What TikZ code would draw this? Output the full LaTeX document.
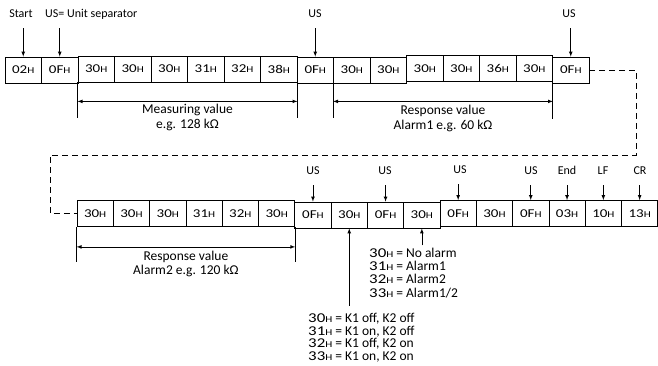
\documentclass[tikz,border=0pt]{standalone}
\usepackage{fontspec}
\setmainfont{Carlito}
\newfontfamily\hexfont[FakeStretch=1.25]{Carlito}
\usetikzlibrary{arrows, positioning}
\newcommand{\hx}[1]{{\hexfont #1{\fontsize{9}{9}\selectfont H}}}
\newcommand{\txtsize}{\fontsize{12}{13.4}\selectfont}
\newcommand{\notesize}{\fontsize{13.5}{14}\selectfont}
\tikzstyle{byte} = [rectangle, draw, line width=0.8pt, minimum width=36.5pt, minimum height=26pt, inner sep=0pt, font=\txtsize]
\tikzstyle{tag} = [inner sep=1pt, text height=9pt, text depth=3pt, font=\txtsize]
\tikzstyle{note} = [inner sep=1pt, text height=9.3pt, text depth=2.7pt, font=\notesize]
\tikzstyle{legendline} = [note, anchor=west]
\tikzstyle{pointer} = [line width=0.7pt, ->, >=latex, shorten <=6pt]
\tikzstyle{span} = [line width=0.7pt, <->, >=latex]
\tikzstyle{bound} = [line width=0.9pt]
\tikzstyle{wrap} = [line width=0.7pt, dash pattern=on 6pt off 4pt]

\begin{document}
\begin{tikzpicture}[x=1pt, y=-1pt]
\useasboundingbox (0,0) rectangle (658,366);
% first line of the frame
\foreach \v/\dy [count=\i] in {02/0,0F/0,30/-1,30/-1,30/-1,31/-1,32/-1,38/-1,0F/0,30/0,30/0,30/-1.5,30/-1.5,36/-1.5,30/-1.5,0F/0}
  \node (t\i) [byte] at ({5+36.5*(\i-0.5)},{70+\dy}) {\hx{\v}};
% second line of the frame
\foreach \v/\dy [count=\i] in {30/0,30/0,30/0,31/0,32/0,30/0,0F/1.5,30/1.5,0F/1.5,30/1.5,0F/0,30/0,0F/0,03/0,10/0,13/0}
  \node (b\i) [byte, minimum width=36.3pt] at ({77+36.3*(\i-0.5)},{213.5+\dy}) {\hx{\v}};
% labels above
\node (start) [tag] at (21,15) {Start};
\node (usdef) [tag, anchor=west] at (44,15) {US= Unit separator};
\node (usA) [tag] at (315,15) {US};
\node (usB) [tag] at (569,15) {US};
\node (usC) [tag] at (313,172) {US};
\node (usD) [tag] at (385,172) {US};
\node (usE) [tag] at (460,171) {US};
\node (usF) [tag] at (531,172) {US};
\node (end) [tag] at (567,172) {End};
\node (lf) [tag] at (603,172) {LF};
\node (cr) [tag] at (640,172) {CR};
\draw [pointer] (t1.north |- start.south) -- (t1.north);
\draw [pointer] (t2.north |- usdef.south) -- (t2.north);
\draw [pointer] (t9.north |- usA.south) -- (t9.north);
\draw [pointer] (t16.north |- usB.south) -- (t16.north);
\draw [pointer] (b7.north |- usC.south) -- (b7.north);
\draw [pointer] (b9.north |- usD.south) -- (b9.north);
\draw [pointer] (b11.north |- usE.south) -- (b11.north);
\draw [pointer] (b13.north |- usF.south) -- (b13.north);
\draw [pointer] (b14.north |- end.south) -- (b14.north);
\draw [pointer] (b15.north |- lf.south) -- (b15.north);
\draw [pointer] (b16.north |- cr.south) -- (b16.north);
% value ranges
\draw [bound] (t3.south west) -- ++(0,36);
\draw [bound] (t8.south east) -- ++(0,36);
\draw [span] ([yshift=-19pt]t3.south west) -- coordinate[midway] (measmid) ([yshift=-19pt]t8.south east);
\node (measA) [note, below=2pt of measmid] {Measuring value};
\node (measB) [note, below=0pt of measA] {e.g. 128 kΩ};
\draw [bound] (t10.south west) -- ++(0,35);
\draw [bound] (t15.south east) -- ++(0,37);
\draw [span] ([yshift=-18pt]t10.south west) -- coordinate[midway] (respmid) ([yshift=-19.5pt]t15.south east);
\node (respA) [note, below=3pt of respmid] {Response value};
\node (respB) [note, below=0pt of respA] {Alarm1 e.g. 60 kΩ};
\draw [bound] (b1.south west) -- ++(0,35);
\draw [bound] (b6.south east) -- ++(0,35);
\draw [span] ([yshift=-20pt]b1.south west) -- coordinate[midway] (altmid) ([yshift=-20pt]b6.south east);
\node (altA) [note, below=3pt of altmid] {Response value};
\node (altB) [note, below=0pt of altA] {Alarm2 e.g. 120 kΩ};
% wrap to the second line
\coordinate (bendR) at (636,155);
\coordinate (bendL) at (50,155);
\draw [wrap] (t16.east) -| (bendR) -- (bendL) |- (b1.west);
% meaning of the status bytes
\foreach \t [count=\i] in {{\hx{30} = No alarm},{\hx{31} = Alarm1},{\hx{32} = Alarm2},{\hx{33} = Alarm1/2}}
  \node (a\i) [legendline] at (368,{254+13.3*(\i-1)}) {\t};
\foreach \t [count=\i] in {{\hx{30} = K1 off, K2 off},{\hx{31} = K1 on, K2 off},{\hx{32} = K1 off, K2 on},{\hx{33} = K1 on, K2 on}}
  \node (k\i) [legendline] at (307,{319+12.8*(\i-1)}) {\t};
\draw [pointer, shorten <=1.5pt] (b10.south |- a1.north) -- (b10.south);
\draw [pointer, shorten <=6pt] (b8.south |- k1.north) -- (b8.south);
\end{tikzpicture}
\end{document}
